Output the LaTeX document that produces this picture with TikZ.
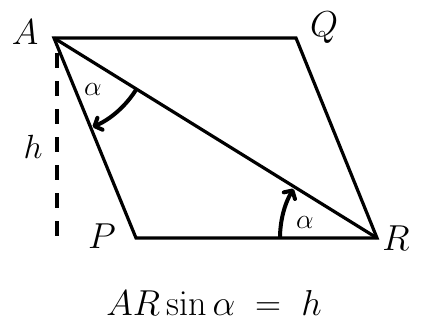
\documentclass[tikz,border=0pt]{standalone}
\usetikzlibrary{arrows.meta}
\begin{document}
\begin{tikzpicture}[x=1pt,y=-1pt,
  edge/.style={line width=3.2pt,line join=miter},
  hline/.style={line width=3.2pt,dash pattern=on 15pt off 13pt},
  anglearc/.style={line width=4pt,-{Straight Barb[length=6pt,width=13pt,line width=4pt,round]}},
  vlabel/.style={font=\fontsize{24.88}{30}\selectfont,inner sep=0pt,scale=1.45},
  alabel/.style={font=\fontsize{24.88}{30}\selectfont,inner sep=0pt,scale=1.12},
  formula/.style={font=\fontsize{24.88}{30}\selectfont,inner sep=0pt,scale=1.45}]
\useasboundingbox (0,0) rectangle (427,330);
\coordinate (A) at (54,38);
\coordinate (Q) at (296,38);
\coordinate (P) at (136,238);
\coordinate (R) at (377,238);
\coordinate (h1) at (57,53);
\coordinate (h2) at (57,236);
\draw[edge] (A) -- (Q) -- (R) -- (P) -- cycle;
\draw[edge] (A) -- (R);
\draw[hline] (h1) -- (h2);
\draw[anglearc] (A) ++(31.9:97) arc[start angle=31.9,end angle=66.5,radius=97];
\draw[anglearc] (R) ++(180:97) arc[start angle=180,end angle=210.5,radius=97];
\node[vlabel] (lA) at (25,32) {$A$};
\node[vlabel] (lQ) at (324,28) {$Q$};
\node[vlabel] (lP) at (102,236) {$P$};
\node[vlabel] (lR) at (396,238) {$R$};
\node[vlabel,scale=0.93] (lh) at (33,147) {$h$};
\node[alabel] (a1) at (93,89) {$\alpha$};
\node[alabel] (a2) at (305,222) {$\alpha$};
\node[formula] (f) at (214,303) {$AR\sin\alpha\;=\;h$};
\end{tikzpicture}
\end{document}
